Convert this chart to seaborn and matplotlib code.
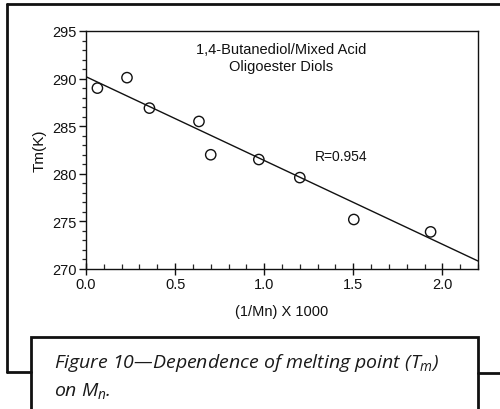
import matplotlib
matplotlib.use("Agg")
import matplotlib.pyplot as plt
from matplotlib.lines import Line2D
from matplotlib.patches import Rectangle
from matplotlib.ticker import MultipleLocator, FormatStrFormatter
import pandas as pd
import seaborn as sns

# Melting point vs reciprocal number-average molecular weight
inv_mn_x1000 = [0.064, 0.23, 0.356, 0.634, 0.70, 0.97, 1.20, 1.503, 1.934]
tm_kelvin = [289.0, 290.1, 286.9, 285.5, 282.0, 281.5, 279.6, 275.2, 273.9]

# Linear fit reported on the chart
fit_intercept = 290.2
fit_slope = -8.8
fit_r = 0.954

x_range = [0.0, 2.2]
y_range = [270, 295]

sns.set_theme(style="white")
plt.rcParams["font.family"] = ["Liberation Sans", "DejaVu Sans"]
plt.rcParams["mathtext.fontset"] = "custom"
plt.rcParams["mathtext.it"] = "Open Sans:italic"
plt.rcParams["mathtext.rm"] = "Open Sans:italic"

fig = plt.figure(figsize=(5.0, 4.1), dpi=100)
ax = fig.add_axes([86 / 500, 1 - 270 / 410, (478 - 86) / 500, (270 - 32) / 410])

df = pd.DataFrame({"x": inv_mn_x1000, "y": tm_kelvin})
fit_df = pd.DataFrame({"x": x_range,
                       "y": [fit_intercept + fit_slope * v for v in x_range]})

sns.lineplot(data=fit_df, x="x", y="y", ax=ax, color="#111111", lw=1.0)
sns.scatterplot(data=df, x="x", y="y", ax=ax, marker="o", s=55,
                facecolor="none", edgecolor="#111111", linewidth=1.0, zorder=3)

ax.set_xlim(*x_range)
ax.set_ylim(*y_range)
ax.xaxis.set_major_locator(MultipleLocator(0.5))
ax.xaxis.set_minor_locator(MultipleLocator(0.1))
ax.yaxis.set_major_locator(MultipleLocator(5))
ax.yaxis.set_minor_locator(MultipleLocator(1))
ax.xaxis.set_major_formatter(FormatStrFormatter("%.1f"))

ax.tick_params(axis="x", which="major", direction="inout", length=8, width=1.0,
               labelsize=10.5, pad=2, colors="#111111", bottom=True)
ax.tick_params(axis="x", which="minor", direction="in", length=3.5, width=0.9,
               bottom=True)
ax.tick_params(axis="y", which="major", direction="out", length=5, width=1.0,
               labelsize=10.5, pad=2, colors="#111111", left=True)
ax.tick_params(axis="y", which="minor", direction="out", length=3, width=0.9,
               left=True)
for sp in ax.spines.values():
    sp.set_color("#111111")
    sp.set_linewidth(1.0)

ax.set_xlabel("(1/Mn) X 1000", fontsize=10.5, color="#111111", labelpad=9)
ax.set_ylabel("Tm(K)", fontsize=11, color="#111111", labelpad=4)

ax.text(0.497, 0.955, "1,4-Butanediol/Mixed Acid\nOligoester Diols",
        transform=ax.transAxes, ha="center", va="top", fontsize=10.5,
        color="#111111", linespacing=1.3)
ax.text(1.285, 281.9, f"R={fit_r}", fontsize=10, color="#111111", va="center")

# Page frame and caption box
frame_kw = dict(color="#111111", lw=2.0, transform=fig.transFigure, clip_on=False)


def px(x, y):
    return x / 500, 1 - y / 410


for (x0, y0), (x1, y1) in [((7, 5), (500, 5)), ((7, 5), (7, 373)),
                           ((7, 373), (31, 373)), ((478, 374), (500, 374))]:
    a, b = px(x0, y0)
    c, d = px(x1, y1)
    fig.add_artist(Line2D([a, c], [b, d], **frame_kw))
cx, cy = px(31, 420)
fig.add_artist(Rectangle((cx, cy), (478 - 31) / 500, (420 - 338) / 410,
                         transform=fig.transFigure, fill=False,
                         edgecolor="#111111", lw=2.0, clip_on=False))

cap_kw = dict(fontsize=14, style="italic", color="#1a1a1a",
              family=["Open Sans", "DejaVu Sans"], va="center", ha="left")
fig.text(54 / 500, 1 - 363 / 410,
         r"Figure 10—Dependence of melting point ($T_m$)", **cap_kw)
fig.text(54 / 500, 1 - 391 / 410, r"on $M_n$.", **cap_kw)

fig.savefig("out.png", dpi=100)
